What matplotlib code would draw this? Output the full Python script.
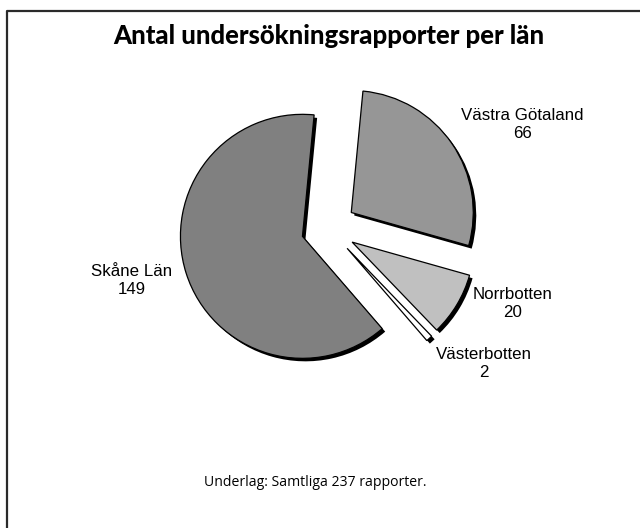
import matplotlib
matplotlib.use("Agg")
import matplotlib.pyplot as plt
from matplotlib.lines import Line2D

# ---- data ----
categories = ["Västra Götaland", "Norrbotten", "Västerbotten", "Skåne Län"]
values = [66, 20, 2, 149]
colors = ["#969696", "#C0C0C0", "#FFFFFF", "#808080"]
title = "Antal undersökningsrapporter per län"
footnote = "Underlag: Samtliga 237 rapporter."

W, H, DPI = 640, 528, 100
fig = plt.figure(figsize=(W / DPI, H / DPI), dpi=DPI)
fig.patch.set_facecolor("white")

# pie geometry (pixels)
cx, cy, R = 328.6, 228.0, 122.0
explode = [0.225] * len(values)
ax = fig.add_axes([0, 0, 1, 1])
ax.axis("off")

# shadow
sh = 3.0 / R
ax.pie(values, explode=explode, colors=["black"] * len(values), startangle=84.5,
       counterclock=False, radius=1.0, center=(sh, -sh),
       wedgeprops=dict(linewidth=0))
# main pie
ax.pie(values, explode=explode, colors=colors, startangle=84.5,
       counterclock=False, radius=1.0, center=(0, 0),
       wedgeprops=dict(edgecolor="black", linewidth=0.9))
ax.set_xlim(-cx / R, (W - cx) / R)
ax.set_ylim(-(H - cy) / R, cy / R)
ax.set_aspect("auto")
ax.axis("off")


def px(x, y):
    return ((x - cx) / R, (cy - y) / R)


label_pos = [(522, 124), (512.5, 303), (484, 363), (132, 280)]
for cat, val, (lx, ly) in zip(categories, values, label_pos):
    ax.text(*px(lx, ly), f"{cat}\n{val}", ha="center", va="center",
            fontsize=12.2, family="Liberation Sans", linespacing=1.25)

ft = lambda x, y: (x / W, 1 - y / H)
t_title = fig.text(*ft(328.5, 44), title, ha="center", va="baseline",
                   fontsize=17, fontweight="black", family="Lato")
t_foot = fig.text(*ft(315.5, 486.5), footnote, ha="center", va="baseline",
                  fontsize=9.5, family="Open Sans")

fig.canvas.draw()
r = fig.canvas.get_renderer()
for t, target in [(t_title, 431), (t_foot, 225)]:
    bb = t.get_window_extent(r)
    t.set_fontsize(t.get_fontsize() * target / bb.width)

# border (top and left edges)
fig.add_artist(Line2D([7 / W, 7 / W, 1.0], [0.0, 1 - 11 / H, 1 - 11 / H],
                      transform=fig.transFigure, color="#2a2a2a", linewidth=1.6))

fig.savefig("out.png", dpi=DPI)
